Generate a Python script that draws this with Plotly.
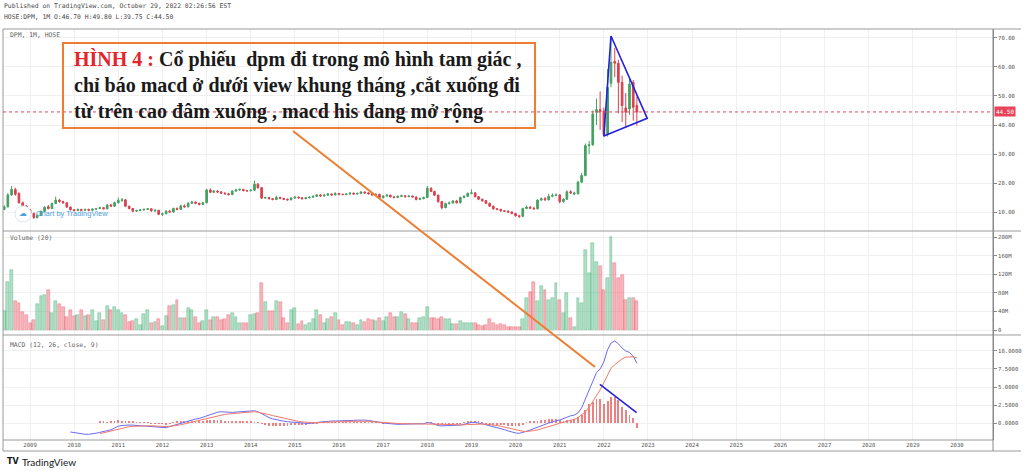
import pandas as pd
import plotly.graph_objects as go
from plotly.subplots import make_subplots

# 月线数据 HOSE:DPM, 从 2008-06 开始
first_month = "2008-06-01"

open_ = [10.9, 11.8, 15.9, 17.8, 16.4, 13.2, 12.1, 10.7, 9.5, 8.1,
         8.8, 10.2, 11.8, 11.2, 12.9, 14.1, 13.6, 13.2, 11.7, 10.8,
         10.5, 10.9, 10.6, 10.9, 10.6, 11.0, 11.2, 11.5, 11.1, 12.4,
         12.0, 13.2, 14.0, 14.2, 12.0, 11.2, 10.3, 10.5, 10.7, 10.9,
         11.1, 10.4, 10.6, 9.2, 9.4, 10.3, 10.0, 11.2, 10.9, 12.1,
         11.8, 13.0, 13.4, 13.0, 12.6, 13.2, 17.6, 16.8, 17.2, 16.9,
         16.5, 16.3, 16.0, 17.2, 17.6, 17.8, 17.4, 17.3, 17.5, 19.6,
         18.4, 14.8, 15.0, 14.6, 14.3, 15.0, 14.7, 14.4, 14.2, 14.8,
         15.1, 14.9, 14.6, 14.9, 15.1, 15.4, 15.9, 15.5, 15.8, 16.2,
         15.9, 16.4, 16.1, 16.0, 16.2, 16.5, 16.2, 16.4, 16.9, 16.6,
         16.3, 15.9, 16.1, 14.9, 15.5, 15.8, 15.2, 15.0, 15.4, 15.6,
         15.3, 15.5, 15.2, 14.3, 14.6, 15.0, 18.2, 17.1, 15.8, 13.6,
         11.5, 12.9, 13.1, 13.8, 13.2, 15.0, 15.4, 16.4, 16.6, 15.3,
         14.4, 13.9, 13.0, 12.0, 11.1, 10.9, 10.4, 10.3, 10.0, 9.5,
         8.7, 8.5, 11.2, 11.7, 11.3, 11.1, 14.1, 14.6, 14.2, 15.4,
         15.7, 15.9, 13.6, 14.4, 17.0, 16.2, 16.3, 20.3, 22.6, 32.9,
         33.2, 44.4, 45.3, 44.8, 36.9, 54.4, 61.9, 61.3, 54.7, 45.9,
         45.5, 54.7, 46.7]
high = [12.3, 16.5, 19.0, 18.4, 16.8, 13.6, 12.4, 11.0, 9.8, 9.2,
        10.5, 12.0, 12.4, 13.3, 15.3, 14.5, 13.9, 13.4, 11.9, 11.0,
        11.2, 11.1, 11.1, 11.1, 11.3, 11.4, 11.8, 11.7, 12.7, 12.8,
        13.6, 15.0, 14.8, 14.4, 12.2, 11.4, 10.8, 11.0, 11.2, 11.4,
        11.2, 10.9, 10.7, 9.8, 10.6, 10.6, 11.5, 11.6, 12.5, 12.6,
        13.4, 13.9, 13.6, 13.2, 13.5, 18.0, 18.2, 17.6, 17.5, 17.2,
        16.8, 16.6, 17.5, 18.0, 18.1, 18.0, 17.6, 17.8, 20.8, 20.0,
        18.6, 15.3, 15.2, 14.8, 15.6, 15.3, 14.9, 14.6, 15.1, 15.5,
        15.4, 15.1, 15.2, 15.4, 15.7, 16.2, 16.1, 16.1, 16.6, 16.4,
        16.8, 16.6, 16.3, 16.5, 16.8, 16.7, 16.7, 17.2, 17.1, 16.8,
        16.5, 16.4, 16.3, 15.8, 16.1, 16.0, 15.4, 15.7, 16.0, 15.8,
        15.8, 15.7, 15.3, 15.0, 15.3, 19.0, 18.5, 17.3, 16.0, 13.8,
        13.2, 13.6, 14.1, 14.2, 15.3, 15.8, 16.8, 17.8, 16.9, 15.5,
        14.6, 14.1, 13.2, 12.2, 11.3, 11.1, 10.6, 10.5, 10.2, 9.7,
        9.0, 11.5, 12.2, 12.0, 11.8, 14.4, 15.0, 15.2, 16.3, 16.4,
        16.4, 16.1, 14.8, 17.4, 17.5, 17.0, 20.8, 23.5, 33.6, 34.5,
        45.0, 49.1, 51.6, 46.0, 59.3, 70.7, 66.5, 62.5, 57.0, 51.0,
        56.5, 55.5, 49.8]
low = [10.6, 11.5, 15.5, 15.6, 12.9, 11.8, 10.4, 9.2, 7.6, 7.8,
       8.6, 10.0, 10.9, 11.0, 12.7, 13.2, 12.8, 11.4, 10.5, 10.2,
       10.3, 10.4, 10.4, 10.3, 10.4, 10.8, 11.0, 10.9, 10.9, 11.7,
       11.8, 12.9, 13.5, 11.8, 10.9, 9.9, 10.0, 10.3, 10.5, 10.7,
       10.1, 10.0, 8.9, 8.6, 9.2, 9.7, 9.8, 10.6, 10.7, 11.5,
       11.6, 12.8, 12.7, 12.3, 12.4, 13.0, 16.5, 16.5, 16.6, 16.2,
       16.0, 15.7, 15.8, 17.0, 17.3, 17.1, 17.0, 17.1, 17.3, 18.0,
       14.5, 14.5, 14.3, 14.0, 14.1, 14.4, 14.1, 13.9, 14.0, 14.6,
       14.6, 14.3, 14.4, 14.7, 14.9, 15.2, 15.2, 15.3, 15.6, 15.6,
       15.7, 15.8, 15.8, 15.8, 16.0, 16.0, 16.0, 16.2, 16.3, 16.0,
       15.6, 15.7, 14.6, 14.7, 15.3, 15.0, 14.7, 14.8, 15.2, 15.0,
       15.1, 14.9, 14.0, 14.1, 14.4, 14.8, 16.8, 15.5, 13.2, 10.9,
       11.3, 12.6, 12.9, 12.9, 13.0, 14.7, 15.2, 16.1, 15.0, 14.1,
       13.5, 12.7, 11.7, 10.8, 10.6, 10.1, 10.0, 9.7, 9.2, 8.4,
       8.0, 8.3, 11.0, 11.0, 10.8, 10.9, 13.9, 13.9, 14.0, 15.1,
       15.4, 13.0, 13.2, 14.2, 16.2, 15.8, 16.0, 20.0, 22.3, 30.0,
       32.8, 40.0, 38.3, 35.8, 36.0, 53.0, 56.5, 44.0, 41.0, 39.0,
       43.5, 41.5, 39.75]
close = [11.8, 15.9, 17.8, 16.1, 13.2, 12.1, 10.7, 9.5, 8.1, 8.8,
         10.2, 11.6, 11.2, 12.9, 14.1, 13.6, 13.2, 11.7, 10.8, 10.5,
         10.9, 10.6, 10.9, 10.6, 11.0, 11.2, 11.5, 11.1, 12.4, 12.0,
         13.2, 14.0, 14.2, 12.0, 11.2, 10.3, 10.5, 10.7, 10.9, 11.1,
         10.4, 10.6, 9.2, 9.4, 10.3, 10.0, 11.2, 10.9, 12.1, 11.8,
         13.0, 13.4, 13.0, 12.6, 13.2, 17.6, 16.8, 17.2, 16.9, 16.5,
         16.3, 16.0, 17.2, 17.6, 17.8, 17.4, 17.3, 17.5, 19.6, 18.4,
         14.8, 15.0, 14.6, 14.3, 15.0, 14.7, 14.4, 14.2, 14.8, 15.1,
         14.9, 14.6, 14.9, 15.1, 15.4, 15.9, 15.5, 15.8, 16.2, 15.9,
         16.4, 16.1, 16.0, 16.2, 16.5, 16.2, 16.4, 16.9, 16.6, 16.3,
         15.9, 16.1, 14.9, 15.5, 15.8, 15.2, 15.0, 15.4, 15.6, 15.3,
         15.5, 15.2, 14.3, 14.6, 15.0, 18.2, 17.1, 15.8, 13.6, 11.5,
         12.9, 13.1, 13.8, 13.2, 15.0, 15.4, 16.4, 16.6, 15.3, 14.4,
         13.9, 13.0, 12.0, 11.1, 10.9, 10.4, 10.3, 10.0, 9.5, 8.7,
         8.5, 11.2, 11.7, 11.3, 11.1, 14.1, 14.6, 14.2, 15.4, 15.7,
         15.9, 13.6, 14.4, 17.0, 16.6, 16.5, 20.3, 22.6, 32.9, 33.2,
         43.8, 45.3, 44.6, 36.7, 53.0, 61.6, 61.3, 54.7, 46.7, 44.4,
         54.1, 46.1, 44.5]

# 成交量 (百万)
volume_m = [41, 104, 130, 63, 59, 39, 32, 14, 21, 56,
            74, 75, 85, 37, 63, 56, 49, 27, 43, 30,
            32, 43, 30, 32, 44, 20, 36, 21, 52, 44,
            49, 42, 37, 32, 18, 20, 23, 11, 34, 43,
            16, 18, 23, 9, 30, 52, 54, 65, 25, 25,
            47, 42, 29, 14, 20, 44, 21, 27, 29, 21,
            23, 32, 36, 27, 14, 16, 16, 32, 34, 37,
            102, 61, 41, 41, 63, 61, 25, 16, 42, 47,
            13, 20, 11, 16, 23, 44, 32, 16, 23, 27,
            36, 21, 11, 18, 18, 16, 11, 21, 18, 23,
            21, 20, 25, 20, 29, 37, 27, 27, 39, 34,
            23, 16, 14, 25, 27, 49, 25, 25, 23, 27,
            23, 23, 13, 13, 20, 16, 16, 16, 14, 11,
            9, 11, 23, 14, 11, 13, 11, 7, 7, 7,
            7, 23, 68, 82, 104, 63, 95, 86, 65, 68,
            102, 65, 36, 79, 25, 7, 68, 59, 172, 122,
            188, 147, 138, 85, 111, 201, 145, 111, 118, 65,
            68, 68, 63]

# MACD (12, 26, close, 9)
macd_start = "2009-12-01"
macd_line = [-1.25, -1.35, -1.45, -1.52, -1.56, -1.57, -1.52, -1.42, -1.3, -1.2,
             -1.08, -0.95, -0.7, -0.45, -0.35, -0.3, -0.28, -0.3, -0.34, -0.37,
             -0.37, -0.37, -0.42, -0.5, -0.55, -0.6, -0.65, -0.5, -0.35, -0.19,
             -0.02, 0.15, 0.32, 0.45, 0.55, 0.63, 0.8, 1.0, 1.2, 1.35,
             1.5, 1.56, 1.5, 1.45, 1.47, 1.52, 1.57, 1.6, 1.64, 1.68,
             1.7, 1.58, 1.3, 1.0, 0.75, 0.58, 0.44, 0.35, 0.25, 0.18,
             0.12, 0.06, 0.01, -0.02, -0.04, -0.05, -0.05, 0.05, 0.14, 0.22,
             0.26, 0.28, 0.28, 0.28, 0.28, 0.3, 0.33, 0.36, 0.4, 0.42,
             0.4, 0.35, 0.3, 0.2, 0.1, 0.0, -0.06, -0.12, -0.17, -0.19,
             -0.17, -0.14, -0.12, -0.1, -0.1, -0.1, -0.1, 0.05, 0.0, -0.2,
             -0.35, -0.4, -0.38, -0.37, -0.37, -0.33, -0.29, -0.18, -0.05, 0.08,
             0.08, 0.02, -0.12, -0.25, -0.37, -0.5, -0.62, -0.76, -0.92, -1.1,
             -1.27, -1.38, -1.44, -1.35, -1.15, -0.97, -0.8, -0.62, -0.42, -0.2,
             0.0, 0.18, 0.3, 0.42, 0.65, 0.88, 1.0, 1.1, 1.4, 2.1,
             3.3, 4.4, 5.8, 7.0, 7.5, 8.5, 10.2, 11.1, 11.4, 11.0,
             10.4, 10.0, 9.8, 9.3, 8.3]
signal_start = "2010-08-01"
signal_line = [-1.48, -1.35, -1.22, -1.1, -0.95, -0.8, -0.68, -0.58, -0.51, -0.47,
               -0.44, -0.41, -0.39, -0.38, -0.38, -0.41, -0.45, -0.49, -0.5, -0.46,
               -0.42, -0.37, -0.25, -0.12, 0.0, 0.14, 0.28, 0.4, 0.5, 0.62,
               0.74, 0.88, 1.02, 1.13, 1.2, 1.25, 1.3, 1.35, 1.4, 1.45,
               1.48, 1.53, 1.57, 1.5, 1.42, 1.32, 1.17, 1.03, 0.9, 0.78,
               0.66, 0.53, 0.42, 0.33, 0.22, 0.15, 0.1, 0.07, 0.05, 0.06,
               0.09, 0.13, 0.17, 0.19, 0.2, 0.2, 0.2, 0.21, 0.23, 0.25,
               0.27, 0.29, 0.28, 0.24, 0.19, 0.14, 0.1, 0.05, 0.0, -0.05,
               -0.08, -0.1, -0.1, -0.1, -0.1, -0.1, -0.1, -0.1, -0.1, -0.08,
               -0.08, -0.1, -0.15, -0.18, -0.2, -0.23, -0.25, -0.27, -0.28, -0.26,
               -0.22, -0.19, -0.15, -0.14, -0.15, -0.17, -0.2, -0.26, -0.35, -0.45,
               -0.58, -0.72, -0.85, -0.97, -1.08, -1.15, -1.18, -1.15, -1.05, -0.95,
               -0.82, -0.68, -0.52, -0.35, -0.2, -0.02, 0.12, 0.22, 0.33, 0.5,
               0.75, 1.1, 1.55, 2.2, 2.95, 3.8, 4.6, 5.6, 6.7, 7.6,
               8.1, 8.55, 8.9, 9.15, 9.2, 9.2, 9.05]
macd_hist = [0.18, 0.15, 0.14, 0.15, 0.25, 0.35, 0.33, 0.28, 0.23, 0.17,
             0.1, 0.04, 0.02, 0.01, -0.04, -0.09, -0.1, -0.11, -0.15, -0.04,
             0.07, 0.18, 0.23, 0.27, 0.32, 0.31, 0.27, 0.23, 0.3, 0.38,
             0.46, 0.47, 0.48, 0.43, 0.3, 0.2, 0.17, 0.17, 0.17, 0.15,
             0.16, 0.15, 0.13, 0.08, -0.12, -0.32, -0.42, -0.45, -0.46, -0.43,
             -0.41, -0.35, -0.3, -0.27, -0.21, -0.17, -0.14, -0.12, -0.1, -0.01,
             0.05, 0.09, 0.09, 0.09, 0.08, 0.08, 0.08, 0.09, 0.1, 0.11,
             0.13, 0.13, 0.12, 0.11, 0.11, 0.06, 0.0, -0.05, -0.06, -0.07,
             -0.09, -0.09, -0.07, -0.04, -0.02, 0.0, 0.0, 0.0, 0.0, 0.13,
             0.08, -0.1, -0.2, -0.22, -0.18, -0.14, -0.12, -0.06, -0.01, 0.08,
             0.17, 0.27, 0.23, 0.16, 0.03, -0.08, -0.17, -0.24, -0.27, -0.31,
             -0.34, -0.38, -0.42, -0.41, -0.36, -0.2, 0.03, 0.18, 0.25, 0.33,
             0.4, 0.48, 0.52, 0.53, 0.5, 0.44, 0.28, 0.37, 0.42, 0.55,
             0.88, 1.1, 1.8, 2.7, 2.96, 3.4, 3.4, 2.7, 3.0, 3.66,
             3.66, 3.2, 2.27, 1.8, 1.1, 0.74, -0.65]

# 手绘标注
triangle_dates = ["2022-01-01", "2022-03-01", "2022-12-26", "2022-01-01"]
triangle_prices = [36.2, 70.7, 42.3, 36.2]
macd_trend_dates = ["2021-11-29", "2022-09-29"]
macd_trend_values = [5.37, 1.43]
last_price = 44.5

price_ticks = [10, 20, 30, 40, 50, 60, 70]
volume_ticks = [0, 40, 80, 120, 160, 200]
macd_ticks = [0, 2.5, 5, 7.5, 10]

dates = pd.date_range(first_month, periods=len(close), freq="MS")
macd_dates = pd.date_range(macd_start, periods=len(macd_line), freq="MS")
signal_dates = pd.date_range(signal_start, periods=len(signal_line), freq="MS")

up_col, down_col = "#45a061", "#d9404f"
vol_colors = ["rgba(69,180,120,0.42)" if c >= o else "rgba(235,80,100,0.42)" for o, c in zip(open_, close)]
vol_lines = ["rgba(69,170,115,0.75)" if c >= o else "rgba(230,90,105,0.75)" for o, c in zip(open_, close)]

fig = make_subplots(rows=3, cols=1, shared_xaxes=True, vertical_spacing=0,
                    row_heights=[202, 104, 105])

fig.add_trace(go.Candlestick(x=dates, open=open_, high=high, low=low, close=close,
                             increasing=dict(line=dict(color=up_col, width=1), fillcolor=up_col),
                             decreasing=dict(line=dict(color=down_col, width=1), fillcolor=down_col),
                             whiskerwidth=0, hoverinfo="skip"), row=1, col=1)
fig.add_trace(go.Scatter(x=triangle_dates, y=triangle_prices, mode="lines",
                         line=dict(color="#2222dd", width=1.6), hoverinfo="skip"), row=1, col=1)

fig.add_trace(go.Bar(x=dates, y=[v * 1e6 for v in volume_m], width=24 * 86400000,
                     marker=dict(color=vol_colors, line=dict(color=vol_lines, width=0.5)),
                     hoverinfo="skip"), row=2, col=1)

fig.add_trace(go.Bar(x=signal_dates, y=macd_hist, width=7 * 86400000,
                     marker=dict(color="#f08080", line=dict(width=0)), hoverinfo="skip"), row=3, col=1)
fig.add_trace(go.Scatter(x=macd_dates, y=macd_line, mode="lines",
                         line=dict(color="#6a6cf0", width=1), hoverinfo="skip"), row=3, col=1)
fig.add_trace(go.Scatter(x=signal_dates, y=signal_line, mode="lines",
                         line=dict(color="#f07a6a", width=1), hoverinfo="skip"), row=3, col=1)
fig.add_trace(go.Scatter(x=macd_trend_dates, y=macd_trend_values, mode="lines",
                         line=dict(color="#2222dd", width=1.6), hoverinfo="skip"), row=3, col=1)

grid = "#f0f0f0"
tick_font = dict(family="DejaVu Sans Mono", size=5.6, color="#555555")
xcommon = dict(type="date", range=["2008-05-22", "2030-10-26"], tick0="2009-01-01", dtick="M12",
               tickformat="%Y", showgrid=True, gridcolor=grid, gridwidth=1, zeroline=False,
               tickfont=tick_font, ticks="", showline=False)
fig.update_xaxes(**xcommon)
fig.update_xaxes(rangeslider_visible=False, row=1, col=1)

ycommon = dict(side="right", showgrid=True, gridcolor=grid, zeroline=False, tickfont=tick_font,
               ticks="outside", ticklen=3, tickcolor="#888888", showline=True, linecolor="#888888",
               linewidth=1, automargin=False)
fig.update_yaxes(**ycommon)
fig.update_yaxes(range=[3.45, 73.1], tickvals=price_ticks,
                 ticktext=[f"{v:.2f}" for v in price_ticks], row=1, col=1)
fig.update_yaxes(range=[-10.75e6, 212.9e6], tickvals=[v * 1e6 for v in volume_ticks],
                 ticktext=[f"{v}M" if v else "0" for v in volume_ticks], row=2, col=1)
fig.update_yaxes(range=[-2.36, 12.22], tickvals=macd_ticks,
                 ticktext=[f"{v:.4f}" for v in macd_ticks], row=3, col=1)

frame = "#9a9a9a"
shapes = [
    dict(type="line", xref="paper", yref="paper", x0=0, x1=1.0283, y0=1, y1=1, line=dict(color=frame, width=1)),
    dict(type="line", xref="paper", yref="paper", x0=0, x1=1.0283, y0=0.5085, y1=0.5085, line=dict(color=frame, width=1)),
    dict(type="line", xref="paper", yref="paper", x0=0, x1=1.0283, y0=0.2555, y1=0.2555, line=dict(color=frame, width=1)),
    dict(type="line", xref="paper", yref="paper", x0=0, x1=1, y0=0, y1=0, line=dict(color=frame, width=1)),
    dict(type="line", xref="paper", yref="paper", x0=0, x1=1.0283, y0=-0.0268, y1=-0.0268, line=dict(color=frame, width=1)),
    dict(type="line", xref="paper", yref="paper", x0=0, x1=0, y0=-0.0268, y1=1, line=dict(color=frame, width=1)),
    dict(type="line", xref="paper", yref="paper", x0=1, x1=1, y0=-0.0268, y1=1, line=dict(color="#888888", width=1)),
    dict(type="line", xref="paper", yref="y", x0=0, x1=1, y0=last_price, y1=last_price,
         line=dict(color="#e8415a", width=1, dash="dot")),
    # 文字框 + 橙色连线
    dict(type="rect", xref="paper", yref="paper", x0=0.0606, x1=0.5374, y0=0.7591, y1=0.9659,
         line=dict(color="#ed7d31", width=2), fillcolor="rgba(0,0,0,0)", layer="above"),
    dict(type="line", xref="paper", yref="paper", x0=0.2929, y0=0.7518, x1=0.598, y1=0.1776,
         line=dict(color="#ed7d31", width=2), layer="above"),
    # TradingView 水印图标
    dict(type="circle", xref="paper", yref="paper", x0=0.0121, x1=0.0283, y0=0.5305, y1=0.5694,
         fillcolor="white", line=dict(color="#dde5ee", width=1)),
]

small = dict(family="DejaVu Sans Mono", size=6.4, color="#4a4a4a")
label = dict(family="DejaVu Sans Mono", size=6.4, color="#666666")
annotations = [
    dict(text="Published on TradingView.com, October 29, 2022 02:26:56 EST", x=-0.001, y=1.056,
         xref="paper", yref="paper", xanchor="left", yanchor="middle", showarrow=False, font=small),
    dict(text="HOSE:DPM, 1M O:46.70 H:49.80 L:39.75 C:44.50", x=-0.001, y=1.029,
         xref="paper", yref="paper", xanchor="left", yanchor="middle", showarrow=False, font=small),
    dict(text="DPM, 1M, HOSE", x=0.005, y=0.9854, xref="paper", yref="paper",
         xanchor="left", yanchor="middle", showarrow=False, font=label),
    dict(text="Volume (20)", x=0.005, y=0.4915, xref="paper", yref="paper",
         xanchor="left", yanchor="middle", showarrow=False, font=label),
    dict(text="MACD (12, 26, close, 9)", x=0.005, y=0.2311, xref="paper", yref="paper",
         xanchor="left", yanchor="middle", showarrow=False, font=label),
    dict(text=f"{last_price:.2f}", x=1, y=last_price, xref="paper", yref="y", xanchor="left",
         yanchor="middle", xshift=1, showarrow=False, bgcolor="#e8415a", borderpad=1,
         font=dict(family="DejaVu Sans Mono", size=6, color="white")),
    dict(text="☁", x=0.0202, y=0.5499, xref="paper", yref="paper", xanchor="center", yanchor="middle",
         showarrow=False, font=dict(family="DejaVu Sans", size=8, color="#4c9ee0")),
    dict(text="Chart by TradingView", x=0.0313, y=0.5499, xref="paper", yref="paper",
         xanchor="left", yanchor="middle", showarrow=False,
         font=dict(family="Liberation Sans", size=7.5, color="#4c9ee0")),
    dict(text="<b>TV</b>", x=0.002, y=-0.0535, xref="paper", yref="paper", xanchor="left",
         yanchor="middle", showarrow=False, font=dict(family="DejaVu Sans", size=8, color="#131722")),
    dict(text="TradingView", x=0.017, y=-0.0535, xref="paper", yref="paper", xanchor="left",
         yanchor="middle", showarrow=False, font=dict(family="Lato", size=10, color="#131722")),
    dict(text=('<b><span style="color:#e3242b">HÌNH 4 :</span> Cổ phiếu\u00a0 dpm đi trong mô hình tam giác ,<br>'
               'chỉ báo macd ở dưới view khung tháng ,cắt xuống đi<br>'
               'từ trên cao đâm xuống , macd his đang mở rộng</b>'),
         x=0.0697, y=0.8625, xref="paper", yref="paper", xanchor="left", yanchor="middle",
         align="left", showarrow=False,
         font=dict(family="Liberation Serif", size=20, color="#1a1a1a")),
]

fig.update_layout(width=1024, height=471, margin=dict(l=3, r=31, t=29, b=31),
                  paper_bgcolor="white", plot_bgcolor="white", showlegend=False,
                  bargap=0, shapes=shapes, annotations=annotations)

# 去掉页面默认的 body 边距, 让图贴齐窗口; 不显示工具栏
fig.write_html("out.html", config={"displayModeBar": False},
               post_script="document.body.style.margin='0';")
